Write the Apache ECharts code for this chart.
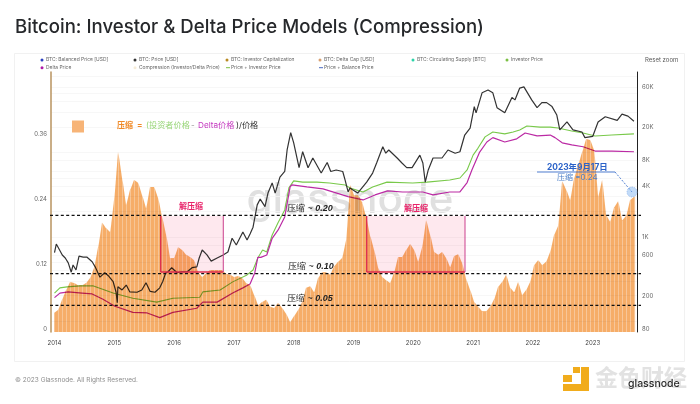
<!DOCTYPE html>
<html>
<head>
<meta charset="utf-8">
<style>html,body{margin:0;padding:0;background:#fff}#main{width:700px;height:404px}</style>
<script src="https://cdn.jsdelivr.net/npm/echarts@6/dist/echarts.min.js"></script>
</head>
<body>
<div id="main"></div>
<script>
// compression ratio, one bar per step starting at the start of 2014
var compressionStart = 2014;
var compressionStep = 0.0669;
var compression = [
	.030,.035,.054,.072,.087,.085,.081,.081,.085,.094,.113,.151,.196,.186,.179,.238,.327,.279,.229,.257,
	.275,.270,.247,.223,.262,.262,.242,.207,.174,.131,.131,.151,.146,.137,.133,.127,.105,.096,.103,.109,
	.109,.109,.109,.102,.100,.096,.098,.094,.085,.081,.063,.044,.050,.054,.041,.039,.048,.039,.028,.013,
	.024,.035,.050,.076,.079,.068,.094,.105,.105,.100,.116,.124,.131,.164,.266,.247,.247,.234,.207,.172,
	.146,.113,.096,.090,.085,.105,.133,.133,.146,.157,.146,.124,.151,.201,.174,.142,.137,.142,.131,.114,
	.135,.138,.122,.092,.072,.050,.041,.033,.033,.041,.055,.078,.087,.100,.076,.068,.087,.063,.072,.087,
	.118,.127,.118,.124,.142,.174,.190,.273,.257,.238,.279,.303,.327,.351,.349,.330,.244,.275,.210,.198,
	.225,.236,.201,.209,.238,.244
];

// BTC price
var priceYears = [
	2014.00,2014.03,2014.06,2014.13,2014.18,2014.23,2014.28,2014.31,2014.36,2014.41,2014.48,2014.54,2014.63,2014.68,2014.76,2014.84,2014.91,2014.98,
	2015.03,2015.05,2015.06,2015.13,2015.20,2015.26,2015.38,2015.46,2015.53,2015.60,2015.68,2015.76,2015.81,2015.86,2015.90,2015.96,
	2016.05,2016.13,2016.22,2016.30,2016.38,2016.42,2016.47,2016.55,2016.62,2016.72,2016.82,2016.90,2016.97,
	2017.04,2017.15,2017.22,2017.27,2017.32,2017.39,2017.44,2017.52,2017.57,2017.64,2017.69,2017.77,2017.85,2017.89,2017.95,
	2018.00,2018.09,2018.15,2018.24,2018.32,2018.46,2018.56,2018.62,2018.71,2018.82,2018.86,2018.91,2018.94,
	2019.07,2019.22,2019.32,2019.39,2019.49,2019.54,2019.59,2019.73,2019.81,2019.89,2019.98,
	2020.11,2020.16,2020.20,2020.25,2020.33,2020.48,2020.58,2020.70,2020.78,2020.86,2020.95,
	2021.02,2021.05,2021.15,2021.25,2021.33,2021.40,2021.53,2021.65,2021.70,2021.78,2021.85,2021.98,
	2022.07,2022.15,2022.23,2022.32,2022.40,2022.45,2022.57,2022.67,2022.82,2022.87,
	2023.00,2023.09,2023.21,2023.41,2023.49,2023.59,2023.69
];
var priceValues = [
	650,820,750,609,560,490,380,463,404,590,575,575,505,440,332,375,340,295,
	220,165,255,234,268,222,220,234,285,225,220,248,295,375,385,430,
	375,385,385,430,440,560,698,609,515,560,609,660,960,
	800,1140,917,1080,1300,2390,2800,2280,3300,4350,3300,5100,5950,10700,17200,
	13000,6600,10200,6600,8600,5700,7600,5950,6200,5950,4700,3400,3800,
	3300,4450,5700,7600,11700,9800,10700,8600,7500,6600,6600,
	9300,7500,4450,6200,8600,8600,10700,9800,10200,16100,19500,
	35000,29500,51000,55000,51000,34000,29500,45000,42000,58000,60000,42000,
	34000,39000,39000,35000,27800,18500,23000,18500,17500,15000,
	15500,23000,26500,24000,28500,27000,23500
];

// investor price
var investorYears = [
	2014.00,2014.09,2014.21,2014.43,2014.64,2014.98,2015.31,2015.71,2015.98,2016.43,2016.48,2016.77,2016.98,
	2017.22,2017.32,2017.40,2017.48,2017.55,2017.64,2017.74,2017.85,2017.92,
	2018.00,2018.15,2018.39,2018.60,2018.86,2018.94,2019.16,2019.32,2019.56,2019.99,2020.23,2020.61,2020.78,2020.90,
	2021.00,2021.08,2021.20,2021.33,2021.53,2021.67,2021.78,2021.90,2022.12,2022.29,2022.42,2022.65,2022.84,2023.04,2023.32,2023.69
];
var investorValues = [
	215,248,255,262,262,215,187,168,187,192,222,234,292,
	353,404,560,698,660,1050,1480,2080,3800,
	4600,4450,4450,4350,4120,3800,3400,3900,4450,4350,4450,4720,4980,6200,
	9300,11200,15300,17500,16600,17500,18500,20600,20000,20000,19500,18000,17000,15700,16100,16600
];

// delta price
var deltaYears = [
	2014.00,2014.09,2014.23,2014.46,2014.63,2014.81,2015.01,2015.31,2015.55,2015.76,2015.98,2016.38,2016.48,2016.72,2016.98,
	2017.15,2017.27,2017.35,2017.40,2017.45,2017.55,2017.64,2017.74,2017.85,2017.94,2017.97,
	2018.22,2018.49,2018.72,2018.91,2019.16,2019.36,2019.57,2019.82,2020.16,2020.33,2020.61,2020.78,2020.90,2020.98,
	2021.11,2021.23,2021.33,2021.53,2021.73,2021.87,2022.07,2022.29,2022.37,2022.49,2022.65,2022.84,2023.04,2023.32,2023.69
];
var deltaValues = [
	190,215,222,215,210,182,150,127,125,110,127,142,168,168,215,
	248,275,375,570,570,609,960,1205,1720,3900,4120,
	3900,3700,3300,3000,2736,3136,3500,3400,3400,3136,3400,3400,4400,6200,
	10100,13300,15000,13300,14500,17000,15700,16100,15000,13000,12300,11700,10400,10400,10200
];

// axis ticks
var yearTicks = [2014,2015,2016,2017,2018,2019,2020,2021,2022,2023];
var ratioTicks = [0,0.12,0.24,0.36];
var priceTicks = [80,200,600,1000,4000,8000,20000,60000];
var priceGrid = [100,200,300,400,500,600,800,1000,2000,3000,4000,5000,6000,8000,10000,20000,30000,40000,50000,60000,80000];

var legendRow1 = ['BTC: Balanced Price [USD]','BTC: Price [USD]','BTC: Investor Capitalization','BTC: Delta Cap [USD]','BTC: Circulating Supply [BTC]','Investor Price'];
var legendRow2 = ['Delta Price','Compression (Investor/Delta Price)','Price + Investor Price','Price + Balance Price'];

var ratioMin = -0.0055;
var ratioMax = 0.4745;
var barColor = '#f6ad68';

function pairs(xs, ys) {
	var out = [];
	for (var i = 0; i < xs.length; i++) {
		out.push([xs[i], Math.log10(ys[i])]); // right axis is plain log10 so custom ticks can be used
	}
	return out;
}

var barData = compression.map(function(v, i) {
	return [compressionStart + i * compressionStep, v];
});

// each bar leans to the next value, keeps the outline smooth and leaves thin light stripes
function renderBar(params, api) {
	var i = params.dataIndex;
	var j = i < compression.length - 1 ? i + 1 : i;
	var a = api.coord([api.value(0), api.value(1)]);
	var b = api.coord([api.value(0, j), api.value(1, j)]);
	var base = api.coord([api.value(0), ratioMin])[1];
	var x1 = a[0] - 0.2;
	var x2 = (j > i ? b[0] : a[0] + 1) - 0.2 - 0.3;
	return {
		type: 'polygon',
		shape: { points: [[x1, base], [x1, a[1]], [x2, b[1]], [x2, base]] },
		style: { fill: barColor }
	};
}

function priceLabel(v) {
	var p = Math.round(Math.pow(10, v));
	return p >= 1000 ? Math.round(p / 1000) + 'K' : '' + p;
}

var graphics = [];
function text(x, y, str, size, color, extra) {
	var style = { x: x, y: y, text: str, fontSize: size, fill: color, fontFamily: 'Inter, "Noto Sans CJK SC", sans-serif', verticalAlign: 'middle', align: 'left' };
	for (var k in extra) style[k] = extra[k];
	graphics.push({ type: 'text', z: 20, silent: true, style: style });
}
function dashed(y) {
	graphics.push({ type: 'line', z: 20, shape: { x1: 50, y1: y, x2: 641, y2: y }, style: { stroke: '#111', lineWidth: 1.2, lineDash: [3, 2.4] } });
}
function box(x1, x2) {
	graphics.push({ type: 'rect', z: 15, shape: { x: x1, y: 216, width: x2 - x1, height: 56 }, style: { fill: '#fee8ee', blend: 'multiply' } });
	graphics.push({ type: 'line', z: 16, shape: { x1: x1, y1: 216, x2: x1, y2: 272 }, style: { stroke: '#dc2b4e', lineWidth: 1.3 } });
	graphics.push({ type: 'line', z: 16, shape: { x1: x1, y1: 272, x2: x2, y2: 272 }, style: { stroke: '#dc2b4e', lineWidth: 1.3 } });
	graphics.push({ type: 'line', z: 16, shape: { x1: x2, y1: 216, x2: x2, y2: 272 }, style: { stroke: '#cf4f97', lineWidth: 1.1 } });
}

// card, title, footer
graphics.push({ type: 'rect', z: -5, shape: { x: 14.5, y: 53.5, width: 670, height: 308 }, style: { fill: '#fff', stroke: '#f1f1f1', lineWidth: 1 } });
text(15, 27, 'Bitcoin: Investor & Delta Price Models (Compression)', 18.6, '#26282b', { fontWeight: 500 });
text(15, 380.5, '© 2023 Glassnode. All Rights Reserved.', 6.5, '#8d8d8d', {});
text(645, 60.5, 'Reset zoom', 6, '#5a5a5a', {});

// watermark behind everything
graphics.push({ type: 'text', z: -1, silent: true, style: { x: 350, y: 200, text: 'glassnode', align: 'center', verticalAlign: 'middle', fontSize: 42, fontWeight: 500, fontFamily: 'Inter, sans-serif', fill: '#e0e0e0' } });

// legend
var row1X = [42, 135, 227, 320, 413, 507];
var row1C = ['#2a3fc0', '#333333', '#b98a22', '#d9a070', '#2bd4a8', '#7bc043'];
legendRow1.forEach(function(name, i) {
	graphics.push({ type: 'circle', z: 20, shape: { cx: row1X[i], cy: 60, r: 1.5 }, style: { fill: row1C[i] } });
	text(row1X[i] + 4, 60, name, 4.9, '#666', {});
});
graphics.push({ type: 'circle', z: 20, shape: { cx: 42, cy: 67.7, r: 1.5 }, style: { fill: '#b01aa8' } });
text(46, 67.7, legendRow2[0], 4.9, '#666', {});
graphics.push({ type: 'circle', z: 20, shape: { cx: 135, cy: 67.7, r: 1.5 }, style: { fill: '#f6ecd8' } });
text(139, 67.7, legendRow2[1], 4.9, '#666', {});
graphics.push({ type: 'line', z: 20, shape: { x1: 226, y1: 67.7, x2: 230, y2: 67.7 }, style: { stroke: '#7bc043', lineWidth: 1 } });
text(231, 67.7, legendRow2[2], 4.9, '#666', {});
graphics.push({ type: 'line', z: 20, shape: { x1: 319, y1: 67.7, x2: 323, y2: 67.7 }, style: { stroke: '#4a6ac0', lineWidth: 1 } });
text(324, 67.7, legendRow2[3], 4.9, '#666', {});

// formula at top left
graphics.push({ type: 'rect', z: 20, shape: { x: 72, y: 120.5, width: 12, height: 12 }, style: { fill: '#f7b477' } });
text(117, 126, '压缩', 8, '#f08a28', { fontWeight: 700 });
text(137, 126, '=', 8, '#f08a28', { fontWeight: 700 });
text(146, 126, '(投资者价格', 8.2, '#9ad67a', {});
text(191, 126, '-', 8, '#999', {});
text(198, 126, 'Delta价格', 8.2, '#c53bc0', {});
text(236, 126, ')/价格', 8.2, '#333', {});

// decompression boxes
box(160.7, 223.3);
box(366.7, 465);
text(179, 207, '解压缩', 8, '#e8246a', { fontWeight: 700 });
text(404, 208.7, '解压缩', 8, '#e8246a', { fontWeight: 700 });

// guide lines
dashed(215.3);
dashed(273.7);
dashed(305.3);
var guideRich = { n: { fontStyle: 'italic', fontWeight: 700, fontSize: 9, fill: '#222' }, t: { fontSize: 9, fill: '#222', fontWeight: 500 } };
text(287, 209, '{t|压缩 ~} {n|0.20}', 9, '#222', { rich: guideRich });
text(288, 267, '{t|压缩 ~} {n|0.10}', 9, '#222', { rich: guideRich });
text(287, 299, '{t|压缩 ~} {n|0.05}', 9, '#222', { rich: guideRich });

// blue callout
text(547, 167, '2023年9月17日', 8.4, '#2b62c8', { fontWeight: 700 });
text(557, 178, '压缩 =0.24', 8, '#4f80c8', {});
graphics.push({ type: 'line', z: 20, shape: { x1: 537, y1: 172, x2: 615, y2: 172 }, style: { stroke: '#3d70cc', lineWidth: 0.9 } });
graphics.push({ type: 'line', z: 20, shape: { x1: 615, y1: 172, x2: 632, y2: 192 }, style: { stroke: '#3d70cc', lineWidth: 0.9, lineDash: [2, 1.5] } });
graphics.push({ type: 'circle', z: 20, shape: { cx: 632, cy: 192, r: 5 }, style: { fill: 'rgba(120,175,240,0.45)', stroke: '#7aa8e6', lineWidth: 0.6, lineDash: [1.5, 1] } });

// source logo bottom right
var gold = '#f1ac1c';
[[573, 367, 7, 6], [581, 367, 8, 24], [563, 384, 26, 7], [563, 375, 9, 7]].forEach(function(r) {
	graphics.push({ type: 'rect', z: 20, shape: { x: r[0], y: r[1], width: r[2], height: r[3] }, style: { fill: gold } });
});
text(595, 379, '金色财经', 23, '#e2e2e2', { fontWeight: 700 });
text(628, 384, 'glassnode', 10.5, '#2a2a2a', { fontWeight: 500 });

var myChart = echarts.init(document.getElementById('main'), null, { renderer: 'canvas' });
var option = {
	animation: false,
	backgroundColor: '#fff',
	grid: { left: 51, right: 63, top: 72, bottom: 72 },
	xAxis: {
		type: 'value',
		min: 2013.9415,
		max: 2023.741,
		splitLine: { show: false },
		axisLine: { show: false },
		axisTick: { show: false },
		axisLabel: {
			customValues: yearTicks,
			formatter: function(v) { return '' + v; },
			color: '#444',
			fontSize: 6,
			margin: 8,
			fontFamily: 'Inter, sans-serif'
		}
	},
	yAxis: [{
		type: 'value',
		position: 'left',
		min: ratioMin,
		max: ratioMax,
		axisLine: { show: true, onZero: false, lineStyle: { color: '#b8935f', width: 1.5 } },
		axisTick: { show: false },
		splitLine: { show: false },
		axisLabel: {
			customValues: ratioTicks,
			formatter: function(v) { return v === 0 ? '0' : v.toFixed(2); },
			color: '#666',
			fontSize: 6,
			margin: 4,
			fontFamily: 'Inter, sans-serif'
		}
	}, {
		type: 'value',
		position: 'right',
		min: Math.log10(74.3),
		max: Math.log10(90000),
		axisLine: { show: true, onZero: false, lineStyle: { color: '#222', width: 1 } },
		axisTick: { show: false, customValues: priceGrid.map(Math.log10) },
		splitLine: { show: true, lineStyle: { color: '#f5f5f5', width: 0.8 } },
		axisLabel: {
			customValues: priceTicks.map(Math.log10),
			formatter: priceLabel,
			color: '#666',
			fontSize: 6,
			margin: 5,
			fontFamily: 'Inter, sans-serif'
		}
	}],
	series: [{
		name: 'Investor Price',
		type: 'line',
		yAxisIndex: 1,
		data: pairs(investorYears, investorValues),
		showSymbol: false,
		lineStyle: { color: '#79c94a', width: 1.1 },
		z: 3
	}, {
		name: 'Delta Price',
		type: 'line',
		yAxisIndex: 1,
		data: pairs(deltaYears, deltaValues),
		showSymbol: false,
		lineStyle: { color: '#bb2aa4', width: 1.2 },
		z: 3
	}, {
		name: 'BTC: Price [USD]',
		type: 'line',
		yAxisIndex: 1,
		data: pairs(priceYears, priceValues),
		showSymbol: false,
		lineStyle: { color: '#333', width: 1.2 },
		z: 4
	}, {
		name: 'Compression (Investor/Delta Price)',
		type: 'custom',
		yAxisIndex: 0,
		data: barData,
		encode: { x: 0, y: 1 },
		renderItem: renderBar,
		blendMode: 'multiply', // lines show through like the original
		z: 6
	}],
	graphic: { elements: graphics }
};
myChart.setOption(option);
</script>
</body>
</html>
